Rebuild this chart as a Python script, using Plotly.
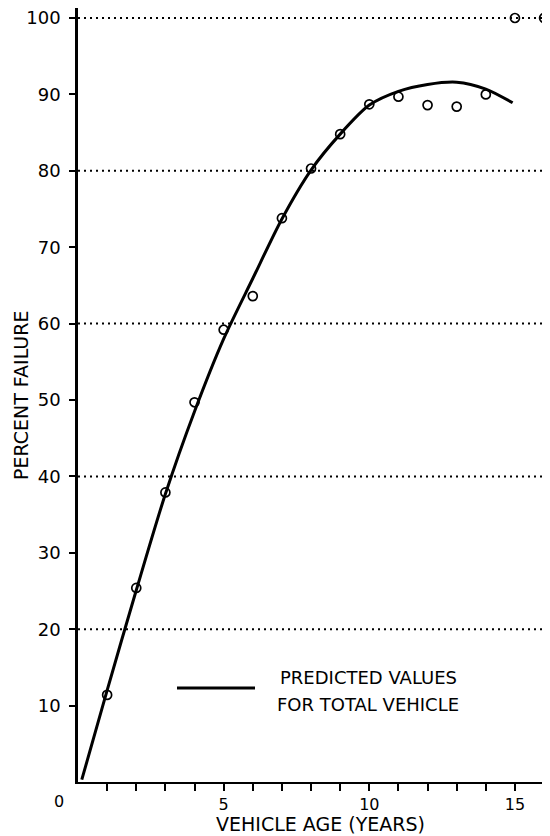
import plotly.graph_objects as go

# Observed data (open circles)
obs_age = [1, 2, 3, 4, 5, 6, 7, 8, 9, 10, 11, 12, 13, 14, 15, 16]
obs_pct = [11.4, 25.4, 37.9, 49.7, 59.2, 63.6, 73.8, 80.3, 84.8, 88.7, 89.7, 88.6, 88.4, 90.0, 100.0, 100.0]

# Predicted curve
pred_age = [0.13, 1, 2, 3, 4, 5, 6, 7, 8, 9, 10, 11, 12, 13, 14, 14.92]
pred_pct = [0.3, 12.0, 25.1, 37.7, 48.5, 58.0, 65.9, 73.7, 80.1, 84.8, 88.6, 90.4, 91.3, 91.6, 90.7, 88.9]

y_ticks = [10, 20, 30, 40, 50, 60, 70, 80, 90, 100]
grid_levels = [20, 40, 60, 80, 100]
x_ticks = list(range(1, 17))
x_labels = ["" if v not in (5, 10, 15) else str(v) for v in x_ticks]

FONT = "DejaVu Sans"
# The page body has an 8px margin, so the figure is sized to end at the window edge.
OFF = 8
W, H = 550 - OFF, 836 - OFF
# plot area in page pixels
P_LEFT, P_RIGHT, P_TOP, P_BOTTOM = 78, 548, 8, 782
L, R, T, B = P_LEFT - OFF, 550 - P_RIGHT, P_TOP - OFF, 836 - P_BOTTOM
PW, PH = P_RIGHT - P_LEFT, P_BOTTOM - P_TOP


def px(xp):
    return (xp - P_LEFT) / PW


def py(yp):
    return (P_BOTTOM - yp) / PH


fig = go.Figure()
fig.add_trace(go.Scatter(
    x=pred_age, y=pred_pct, mode="lines", line=dict(color="black", width=3, shape="spline", smoothing=0.8),
    showlegend=False, hoverinfo="skip"))
fig.add_trace(go.Scatter(
    x=obs_age, y=obs_pct, mode="markers",
    marker=dict(symbol="circle-open", size=9, color="black", line=dict(width=1.7)),
    showlegend=False, cliponaxis=False))

shapes = []
for g in grid_levels:
    shapes.append(dict(type="line", xref="paper", yref="y", x0=0, x1=1, y0=g, y1=g,
                       line=dict(color="black", width=2, dash="2px,4px"), layer="below"))
# legend line sample
shapes.append(dict(type="line", xref="paper", yref="paper",
                   x0=px(177), x1=px(255), y0=py(688), y1=py(688),
                   line=dict(color="black", width=3)))

fig.update_layout(
    width=W, height=H,
    margin=dict(l=L, r=R, t=T, b=B, pad=0),
    paper_bgcolor="white", plot_bgcolor="white",
    font=dict(family=FONT, color="black", size=16),
    shapes=shapes,
    annotations=[
        dict(text="PREDICTED VALUES", xref="paper", yref="paper",
             x=px(368), y=py(677), xanchor="center", yanchor="middle",
             showarrow=False, font=dict(size=18, family=FONT)),
        dict(text="FOR TOTAL VEHICLE", xref="paper", yref="paper",
             x=px(368), y=py(704), xanchor="center", yanchor="middle",
             showarrow=False, font=dict(size=18, family=FONT)),
        dict(text="0", xref="paper", yref="paper", x=px(59), y=py(802),
             xanchor="center", yanchor="middle", showarrow=False, font=dict(size=16, family=FONT)),
        dict(text="VEHICLE AGE (YEARS)", xref="paper", yref="paper", x=px(320), y=py(824),
             xanchor="center", yanchor="middle", showarrow=False, font=dict(size=19, family=FONT)),
        dict(text="PERCENT FAILURE", xref="paper", yref="paper", x=px(21), y=py(396),
             xanchor="center", yanchor="middle", showarrow=False, textangle=-90,
             font=dict(size=19, family=FONT)),
    ],
    xaxis=dict(range=[0, 470 / 29.13], tickvals=x_ticks, ticktext=x_labels, ticks="outside",
               ticklen=7, tickwidth=1.5, tickcolor="black", showline=True, linecolor="black",
               linewidth=1.5, showgrid=False, zeroline=False, automargin=False,
               ticklabeloverflow="allow", tickfont=dict(size=16, family=FONT)),
    yaxis=dict(range=[0, 774 / 7.64], tickvals=y_ticks, ticks="outside", ticklen=6, tickwidth=1.5,
               tickcolor="black", showline=True, linecolor="black", linewidth=2.5,
               showgrid=False, zeroline=False, automargin=False, ticklabelstandoff=5,
               ticklabeloverflow="allow", tickfont=dict(size=18, family=FONT)),
)

fig.write_html("out.html")
